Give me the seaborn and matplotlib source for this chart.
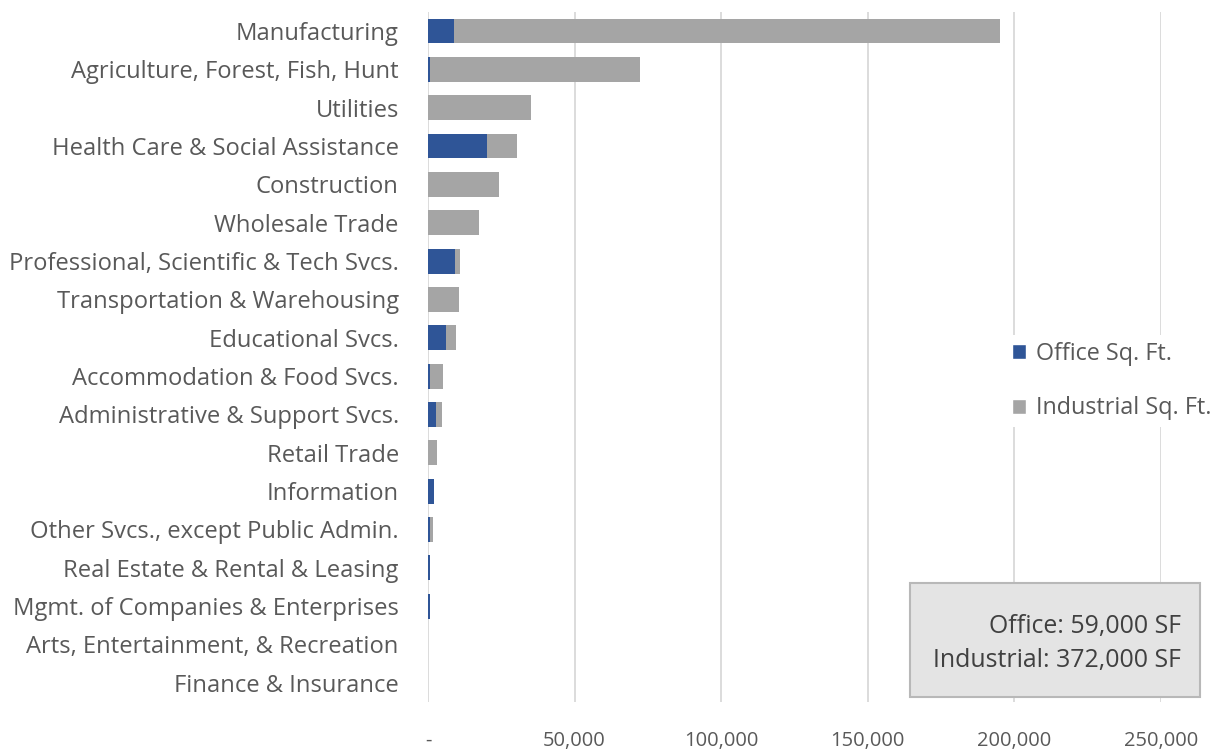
import matplotlib
matplotlib.use("Agg")
import matplotlib.pyplot as plt
from matplotlib.patches import Rectangle, Patch
import seaborn as sns
import pandas as pd

categories = [
    "Manufacturing",
    "Agriculture, Forest, Fish, Hunt",
    "Utilities",
    "Health Care & Social Assistance",
    "Construction",
    "Wholesale Trade",
    "Professional, Scientific & Tech Svcs.",
    "Transportation & Warehousing",
    "Educational Svcs.",
    "Accommodation & Food Svcs.",
    "Administrative & Support Svcs.",
    "Retail Trade",
    "Information",
    "Other Svcs., except Public Admin.",
    "Real Estate & Rental & Leasing",
    "Mgmt. of Companies & Enterprises",
    "Arts, Entertainment, & Recreation",
    "Finance & Insurance",
]
office_sqft = [9000, 600, 0, 20000, 0, 0, 9200, 0, 6100, 600, 2600, 0, 1900, 600, 800, 800, 0, 0]
industrial_sqft = [186000, 71600, 35000, 10300, 24100, 17500, 1700, 10600, 3600, 4600, 2300, 3100, 0, 1100, 0, 0, 0, 0]
x_ticks = [0, 50000, 100000, 150000, 200000, 250000]
x_tick_labels = ["-", "50,000", "100,000", "150,000", "200,000", "250,000"]
summary_lines = ["Office: 59,000 SF", "Industrial: 372,000 SF"]

OFFICE_COLOR = "#2F5597"
INDUSTRIAL_COLOR = "#A5A5A5"
TEXT_COLOR = "#595959"

sns.set_style("white")
plt.rcParams["font.family"] = ["Open Sans", "DejaVu Sans"]

df = pd.DataFrame({
    "category": categories,
    "office": office_sqft,
    "industrial": industrial_sqft,
})
df["total"] = df["office"] + df["industrial"]

fig = plt.figure(figsize=(12.15, 7.54), dpi=100)
ax = fig.add_axes([428 / 1215, 1 - 702 / 754, (1161 - 428) / 1215, (702 - 11.8) / 754])

# Stacked bars: full total in grey, office share overlaid in blue
sns.barplot(data=df, x="total", y="category", color=INDUSTRIAL_COLOR,
            saturation=1, width=0.65, linewidth=0, ax=ax, zorder=2)
sns.barplot(data=df, x="office", y="category", color=OFFICE_COLOR,
            saturation=1, width=0.65, linewidth=0, ax=ax, zorder=3)

ax.set_xlim(0, 250000)
ax.set_ylim(len(categories) - 0.5, -0.5)
ax.set_xticks(x_ticks)
ax.set_xticklabels(x_tick_labels)
ax.set_xlabel("")
ax.set_ylabel("")
ax.grid(axis="x", color="#D9D9D9", linewidth=1.3, zorder=0)
ax.set_axisbelow(True)
for side in ["top", "right", "bottom", "left"]:
    ax.spines[side].set_visible(False)
ax.tick_params(axis="both", length=0, colors=TEXT_COLOR)
ax.tick_params(axis="x", labelsize=14.5, pad=21)
ax.tick_params(axis="y", labelsize=17.1, pad=21)

handles = [Patch(facecolor=OFFICE_COLOR, label="Office Sq. Ft."),
           Patch(facecolor=INDUSTRIAL_COLOR, label="Industrial Sq. Ft.")]
leg = fig.legend(handles=handles, loc="upper left",
                 bbox_to_anchor=(1005 / 1215, 1 - 335 / 754),
                 frameon=True, fontsize=16.8, labelspacing=1.3,
                 handlelength=0.6, handleheight=0.6, handletextpad=0.45,
                 borderpad=0.3, borderaxespad=0)
leg.get_frame().set_facecolor("white")
leg.get_frame().set_edgecolor("none")
leg.get_frame().set_alpha(1)
for t in leg.get_texts():
    t.set_color(TEXT_COLOR)

# Summary box in the lower right
fig.patches.append(Rectangle((910 / 1215, 1 - 697 / 754), 290 / 1215, 114 / 754,
                             transform=fig.transFigure, facecolor="#E4E4E4",
                             edgecolor="#B8B8B8", linewidth=1.5, zorder=5))
fig.text(1181 / 1215, 1 - 627 / 754, summary_lines[0], ha="right", va="center",
         fontsize=17.9, color="#404040", zorder=6)
fig.text(1181 / 1215, 1 - 661 / 754, summary_lines[1], ha="right", va="center",
         fontsize=17.9, color="#404040", zorder=6)

fig.savefig("out.png", dpi=100)
